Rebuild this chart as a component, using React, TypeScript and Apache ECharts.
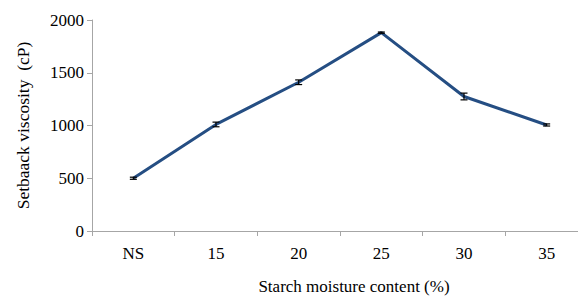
import React, { useEffect, useRef } from "react";
import * as echarts from "echarts";

const categories = ["NS", "15", "20", "25", "30", "35"];
const setbackValues = [500, 1010, 1410, 1880, 1275, 1005];
const errorValues = [10, 22, 22, 6, 32, 10];
const yTicks = [0, 500, 1000, 1500, 2000];

const FONT = "'Liberation Serif', 'Times New Roman', serif";

export default function App() {
  const ref = useRef<HTMLDivElement>(null);
  useEffect(() => {
    if (!ref.current) return;
    const chart = echarts.init(ref.current, undefined, { renderer: "svg" });
    const errData = categories.map((c, i) => [
      i,
      setbackValues[i] - errorValues[i],
      setbackValues[i] + errorValues[i],
    ]);
    chart.setOption({
      animation: false,
      backgroundColor: "#ffffff",
      grid: {
        left: 92,
        top: 20,
        width: 496,
        height: 211,
        containLabel: false,
        outerBoundsMode: "none",
      },
      xAxis: {
        type: "category",
        data: categories,
        boundaryGap: true,
        name: "Starch moisture content (%)",
        nameLocation: "middle",
        nameGap: 47,
        nameTextStyle: {
          fontFamily: FONT,
          fontSize: 17,
          color: "#000",
          padding: [0, 0, 0, 28],
        },
        axisLine: { lineStyle: { color: "#a6a6a6", width: 1 } },
        axisTick: { show: true, inside: false, length: 5, lineStyle: { color: "#a6a6a6" } },
        axisLabel: { fontFamily: FONT, fontSize: 17, color: "#000", margin: 14 },
        splitLine: { show: false },
      },
      yAxis: {
        type: "value",
        min: yTicks[0],
        max: yTicks[yTicks.length - 1],
        interval: 500,
        name: "Setbaack viscosity  (cP)",
        nameLocation: "middle",
        nameGap: 60,
        nameRotate: 90,
        nameTextStyle: { fontFamily: FONT, fontSize: 17.5, color: "#000" },
        axisLine: { show: true, lineStyle: { color: "#a6a6a6", width: 1 } },
        axisTick: { show: true, inside: false, length: 5, lineStyle: { color: "#a6a6a6" } },
        axisLabel: {
          fontFamily: FONT,
          fontSize: 17,
          color: "#000",
          margin: 8,
          formatter: (v: number) => String(v),
        },
        splitLine: { show: false },
      },
      series: [
        {
          type: "line",
          data: setbackValues,
          symbol: "none",
          lineStyle: { color: "#254e83", width: 3 },
          z: 2,
        },
        {
          type: "custom",
          data: errData,
          z: 3,
          renderItem: (params: any, api: any) => {
            const x = api.value(0);
            const lo = api.coord([x, api.value(1)]);
            const hi = api.coord([x, api.value(2)]);
            const hw = 3.5;
            const style = { stroke: "#000", lineWidth: 1.2 };
            return {
              type: "group",
              children: [
                { type: "line", shape: { x1: lo[0], y1: lo[1], x2: hi[0], y2: hi[1] }, style },
                { type: "line", shape: { x1: lo[0] - hw, y1: lo[1], x2: lo[0] + hw, y2: lo[1] }, style },
                { type: "line", shape: { x1: hi[0] - hw, y1: hi[1], x2: hi[0] + hw, y2: hi[1] }, style },
              ],
            };
          },
        },
      ],
    });
    return () => chart.dispose();
  }, []);
  return (
    <div
      ref={ref}
      style={{ position: "fixed", left: 0, top: 0, width: 578, height: 297 }}
    />
  );
}
